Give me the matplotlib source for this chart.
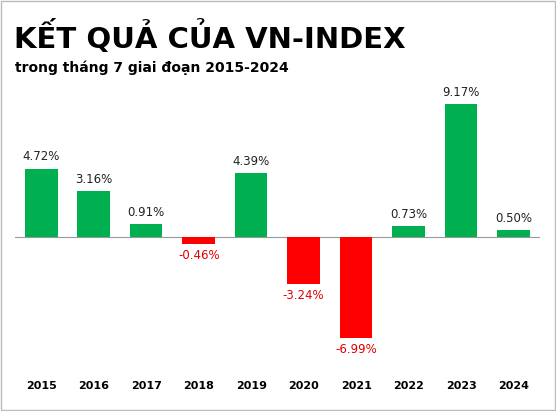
import matplotlib
matplotlib.use("Agg")
import matplotlib.pyplot as plt
from matplotlib.patches import Rectangle

years = ["2015","2016","2017","2018","2019","2020","2021","2022","2023","2024"]
values = [4.72, 3.16, 0.91, -0.46, 4.39, -3.24, -6.99, 0.73, 9.17, 0.50]

fig = plt.figure(figsize=(5.56, 4.11), dpi=100)
fig.patches.append(Rectangle((0.002,0.002),0.996,0.996,transform=fig.transFigure,fill=False,edgecolor="#bbbbbb",lw=1))
ax = fig.add_axes([0.027, 0.124, 0.944, 0.645])
x = range(len(years))
colors = ["#00b050" if v >= 0 else "#ff0000" for v in values]
ax.bar(x, values, width=0.62, color=colors, zorder=2)
ax.axhline(0, color="#999999", lw=0.8, zorder=1)
for i, v in enumerate(values):
    if v >= 0:
        ax.text(i, v + 0.35, f"{v:.2f}%", ha="center", va="bottom", fontsize=8.5, color="#222222")
    else:
        ax.text(i, v - 0.35, f"{v:.2f}%", ha="center", va="top", fontsize=8.5, color="#e00000")
    ax.text(i, -10.3, years[i], ha="center", va="center", fontsize=8, fontweight="bold")
ax.set_xlim(-0.5, 9.5)
ax.set_ylim(-8.5, 9.8)
ax.axis("off")
fig.text(0.025, 0.91, "KẾT QUẢ CỦA VN-INDEX", fontsize=21, fontweight="bold", va="center")
fig.text(0.027, 0.835, "trong tháng 7 giai đoạn 2015-2024", fontsize=10, fontweight="bold", va="center")
fig.savefig("out.png", dpi=100)
